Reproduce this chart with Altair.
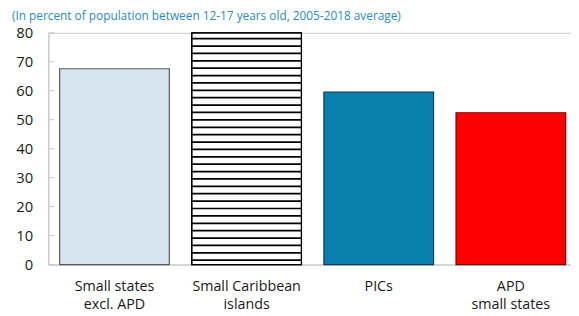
import altair as alt
import pandas as pd

categories = ["Small states|excl. APD", "Small Caribbean|islands", "PICs", "APD|small states"]
values = [67.6, 80.0, 59.5, 52.4]
fills = ["#d7e5f1", "#ffffff", "#0a80ae", "#ff0000"]
strokes = ["#5a5a5a", "#000000", "#0b3d5c", "#7a0000"]
y_ticks = [0, 10, 20, 30, 40, 50, 60, 70, 80]
title_text = "(In percent of population between 12-17 years old, 2005-2018 average)"
hatch_cat = "Small Caribbean|islands"

df = pd.DataFrame({"cat": categories, "value": values})
ticks_df = pd.DataFrame({"t": y_ticks})

FONT = "Open Sans"
GRAY = "#c8c8c8"

xscale = alt.Scale(domain=categories, range=[0, 536], paddingInner=0.17, paddingOuter=0.085)
yscale = alt.Scale(domain=[0, 80], nice=False)

xaxis = alt.Axis(labelExpr="split(datum.label, '|')", labelAngle=0,
                 labelFont=FONT, labelFontSize=14.5, labelColor="#1a1a1a",
                 labelLineHeight=18.5, labelPadding=15,
                 ticks=False, domainColor=GRAY, labelBaseline="top", title=None)
yaxis = alt.Axis(values=y_ticks, ticks=False, grid=False, labelPadding=16,
                 labelOverlap=False, labelFont=FONT, labelFontSize=15,
                 labelColor="#1a1a1a", domainColor=GRAY, title=None)

bars = alt.Chart(df).mark_bar(strokeWidth=1.2).encode(
    x=alt.X("cat:N", scale=xscale, sort=categories, axis=xaxis),
    y=alt.Y("value:Q", scale=yscale, axis=yaxis),
    fill=alt.Fill("cat:N", scale=alt.Scale(domain=categories, range=fills), legend=None),
    stroke=alt.Stroke("cat:N", scale=alt.Scale(domain=categories, range=strokes), legend=None),
)

hatch = alt.Chart(alt.sequence(1.2, 79, 2.55, as_="v")).transform_calculate(
    cat=f"'{hatch_cat}'", v2="datum.v + 0.6"
).mark_bar(color="#000000").encode(
    x=alt.X("cat:N", scale=xscale, sort=categories, axis=xaxis),
    y=alt.Y("v:Q", scale=yscale, axis=yaxis),
    y2="v2:Q",
)

outline = alt.Chart(df).transform_filter(f"datum.cat == '{hatch_cat}'").mark_bar(
    fillOpacity=0, stroke="#000000", strokeWidth=1.2
).encode(
    x=alt.X("cat:N", scale=xscale, sort=categories, axis=xaxis),
    y=alt.Y("value:Q", scale=yscale, axis=yaxis),
)

yticks = alt.Chart(ticks_df).mark_rule(color=GRAY, strokeWidth=1).encode(
    y=alt.Y("t:Q", scale=yscale, axis=yaxis),
    x=alt.value(0),
    x2=alt.value(6),
)

chart = alt.layer(bars, hatch, outline, yticks).properties(
    width=530,
    height=235,
    autosize=alt.AutoSizeParams(type="none"),
    padding={"left": 41, "top": 23, "right": 0, "bottom": 50},
    title=alt.TitleParams(title_text, anchor="start", frame="group", dx=-37,
                          fontSize=12, font=FONT, fontWeight="normal",
                          color="#2a8cc4", offset=-8.5, baseline="bottom"),
).configure_view(stroke=GRAY, strokeWidth=1)

chart.save("out.html", embed_options={"renderer": "svg", "actions": False})
